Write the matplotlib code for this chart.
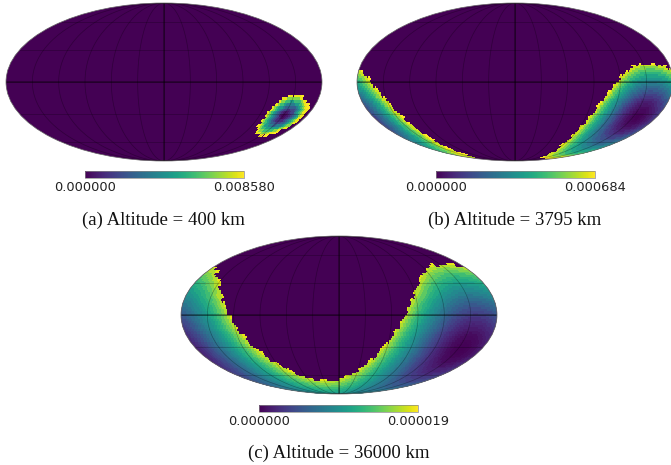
import numpy as np
import matplotlib
matplotlib.use("Agg")
import matplotlib.pyplot as plt
from matplotlib.cm import ScalarMappable
from matplotlib.colors import Normalize

CAPTIONS = ["(a) Altitude = 400 km", "(b) Altitude = 3795 km", "(c) Altitude = 36000 km"]
TICK_LABELS = [["0.000000", "0.008580"], ["0.000000", "0.000684"], ["0.000000", "0.000019"]]
VMAX = [0.008580, 0.000684, 0.000019]

NADIR = [(152, -32), (156, -33), (155, -32)]

# colour level (share of colour-bar maximum) for successive rings around the core
RING_STEP = [2.0, 2.5, 3.0]
RINGS_A = [0.02, 0.06, 0.12, 0.2, 0.3, 0.42, 0.55, 0.68, 0.82, 0.97, 1.0]
RINGS_B = [0.0, 0.01, 0.02, 0.035, 0.055, 0.08, 0.11, 0.15, 0.19, 0.24, 0.29, 0.34,
           0.4, 0.46, 0.52, 0.58, 0.65, 0.73, 0.82, 0.92, 1.0, 1.0]
RINGS_C = [0.0, 0.005, 0.01, 0.02, 0.03, 0.05, 0.07, 0.09, 0.11, 0.14, 0.17, 0.2, 0.23,
           0.27, 0.31, 0.35, 0.39, 0.43, 0.47, 0.51, 0.55, 0.6, 0.64, 0.69, 0.75, 0.81,
           0.88, 0.96, 1.0, 1.0]

# outer reach of the coloured cap (deg from the core) per 5-degree bearing
EDGE_A = [20, 21, 19, 20, 22, 20, 19, 21, 20, 21, 19, 20, 21, 19, 21, 20, 19, 21,
          20, 21, 20, 19, 21, 20, 21, 19, 20, 21, 19, 20, 21, 20, 19, 21, 20, 19,
          21, 20, 19, 21, 20, 19, 21, 20, 21, 19, 20, 21, 19, 21, 20, 19, 22, 20,
          21, 19, 20, 21, 20, 19, 21, 20, 22, 19, 20, 21, 19, 21, 20, 21, 19, 20]
EDGE_B = [50, 51, 49, 50, 52, 49, 50, 51, 49, 50, 52, 50, 49, 51, 50, 49, 52, 50,
          51, 49, 50, 52, 49, 51, 50, 49, 51, 52, 50, 49, 51, 50, 52, 49, 50, 51,
          49, 52, 50, 51, 49, 50, 52, 50, 49, 51, 50, 52, 49, 50, 51, 49, 50, 52,
          51, 49, 50, 52, 49, 51, 50, 49, 52, 50, 51, 49, 50, 52, 49, 51, 50, 49]
EDGE_C = [81, 83, 80, 82, 81, 83, 80, 81, 83, 82, 80, 81, 83, 80, 82, 81, 80, 83,
          81, 82, 80, 83, 81, 80, 82, 83, 81, 80, 82, 81, 83, 80, 81, 82, 80, 83,
          81, 80, 82, 83, 81, 80, 82, 81, 83, 80, 81, 83, 82, 80, 81, 83, 80, 82,
          81, 80, 83, 81, 82, 80, 83, 81, 80, 82, 83, 81, 80, 82, 81, 83, 80, 81]

RINGS = [RINGS_A, RINGS_B, RINGS_C]
EDGES = [EDGE_A, EDGE_B, EDGE_C]
CELL_DEG = [2.6, 1.8, 1.8]

W, H = 671, 465
AXES_PX = [(6, 3), (357, 3), (181, 236)]
BAR_PX = [(85, 171), (436, 171), (259, 405)]
CAPTION_PX = [(163.5, 220), (515, 220), (339, 453)]
TICK_Y_PX = [187, 187, 421]

plt.rcParams["font.family"] = "DejaVu Sans"
fig = plt.figure(figsize=(W / 100, H / 100), dpi=100)


def grid(step_deg):
    step = np.radians(step_deg)
    nlon = int(round(2 * np.pi / step))
    nlat = int(round(np.pi / step))
    return np.linspace(-np.pi, np.pi, nlon + 1), np.linspace(-np.pi / 2, np.pi / 2, nlat + 1)


def field(i, lon_e, lat_e):
    LON, LAT = np.meshgrid((lon_e[:-1] + lon_e[1:]) / 2, (lat_e[:-1] + lat_e[1:]) / 2)
    lo0, la0 = np.radians(NADIR[i])
    dl = LON - lo0
    c = np.sin(la0) * np.sin(LAT) + np.cos(la0) * np.cos(LAT) * np.cos(dl)
    dist = np.degrees(np.arccos(np.clip(c, -1, 1)))
    y = np.sin(dl) * np.cos(LAT)
    x = np.cos(la0) * np.sin(LAT) - np.sin(la0) * np.cos(LAT) * np.cos(dl)
    brg = np.degrees(np.arctan2(y, x)) % 360
    edge = np.array(EDGES[i], float)[(brg // 5).astype(int) % 72]
    rings = np.array(RINGS[i])
    idx = np.clip((dist / RING_STEP[i]).astype(int), 0, len(rings) - 1)
    out = rings[idx] * VMAX[i]
    return np.ma.masked_where(dist > edge, out)


for i in range(3):
    x0, y0 = AXES_PX[i]
    ax = fig.add_axes([x0 / W, 1 - (y0 + 158) / H, 316 / W, 158 / H], projection="mollweide")
    ax.set_facecolor("#440154")
    lon_e, lat_e = grid(CELL_DEG[i])
    ax.pcolormesh(lon_e, lat_e, field(i, lon_e, lat_e), cmap="viridis", vmin=0, vmax=VMAX[i],
                  shading="flat", antialiased=False, rasterized=True)
    ax.set_longitude_grid(30)
    ax.set_latitude_grid(30)
    ax.set_longitude_grid_ends(90)
    ax.set_xticklabels([])
    ax.set_yticklabels([])
    ax.grid(True, color="black", lw=0.5, alpha=0.3)
    ax.plot(np.linspace(-np.pi, np.pi, 50), np.zeros(50), color="black", lw=0.6, alpha=0.8)
    ax.plot(np.zeros(50), np.linspace(-np.pi / 2, np.pi / 2, 50), color="black", lw=0.6, alpha=0.8)
    for s in ax.spines.values():
        s.set_linewidth(0.5)
        s.set_edgecolor("#666666")

    bx, by = BAR_PX[i]
    cax = fig.add_axes([bx / W, 1 - (by + 7) / H, 159 / W, 7 / H])
    cb = fig.colorbar(ScalarMappable(Normalize(0, VMAX[i]), "viridis"), cax=cax, orientation="horizontal")
    cb.set_ticks([])
    cb.outline.set_linewidth(0.5)
    cb.outline.set_edgecolor("#888888")
    fig.text(bx / W, 1 - (TICK_Y_PX[i] + 0.7) / H, TICK_LABELS[i][0], ha="center", va="center", fontsize=9.4, color="#222222")
    fig.text((bx + 159) / W, 1 - (TICK_Y_PX[i] + 0.7) / H, TICK_LABELS[i][1], ha="center", va="center", fontsize=9.4, color="#222222")
    cx, cy = CAPTION_PX[i]
    fig.text(cx / W, 1 - cy / H, CAPTIONS[i], ha="center", va="center", fontsize=13.5, family="Liberation Serif", color="#111111")

fig.savefig("out.png", dpi=100)
